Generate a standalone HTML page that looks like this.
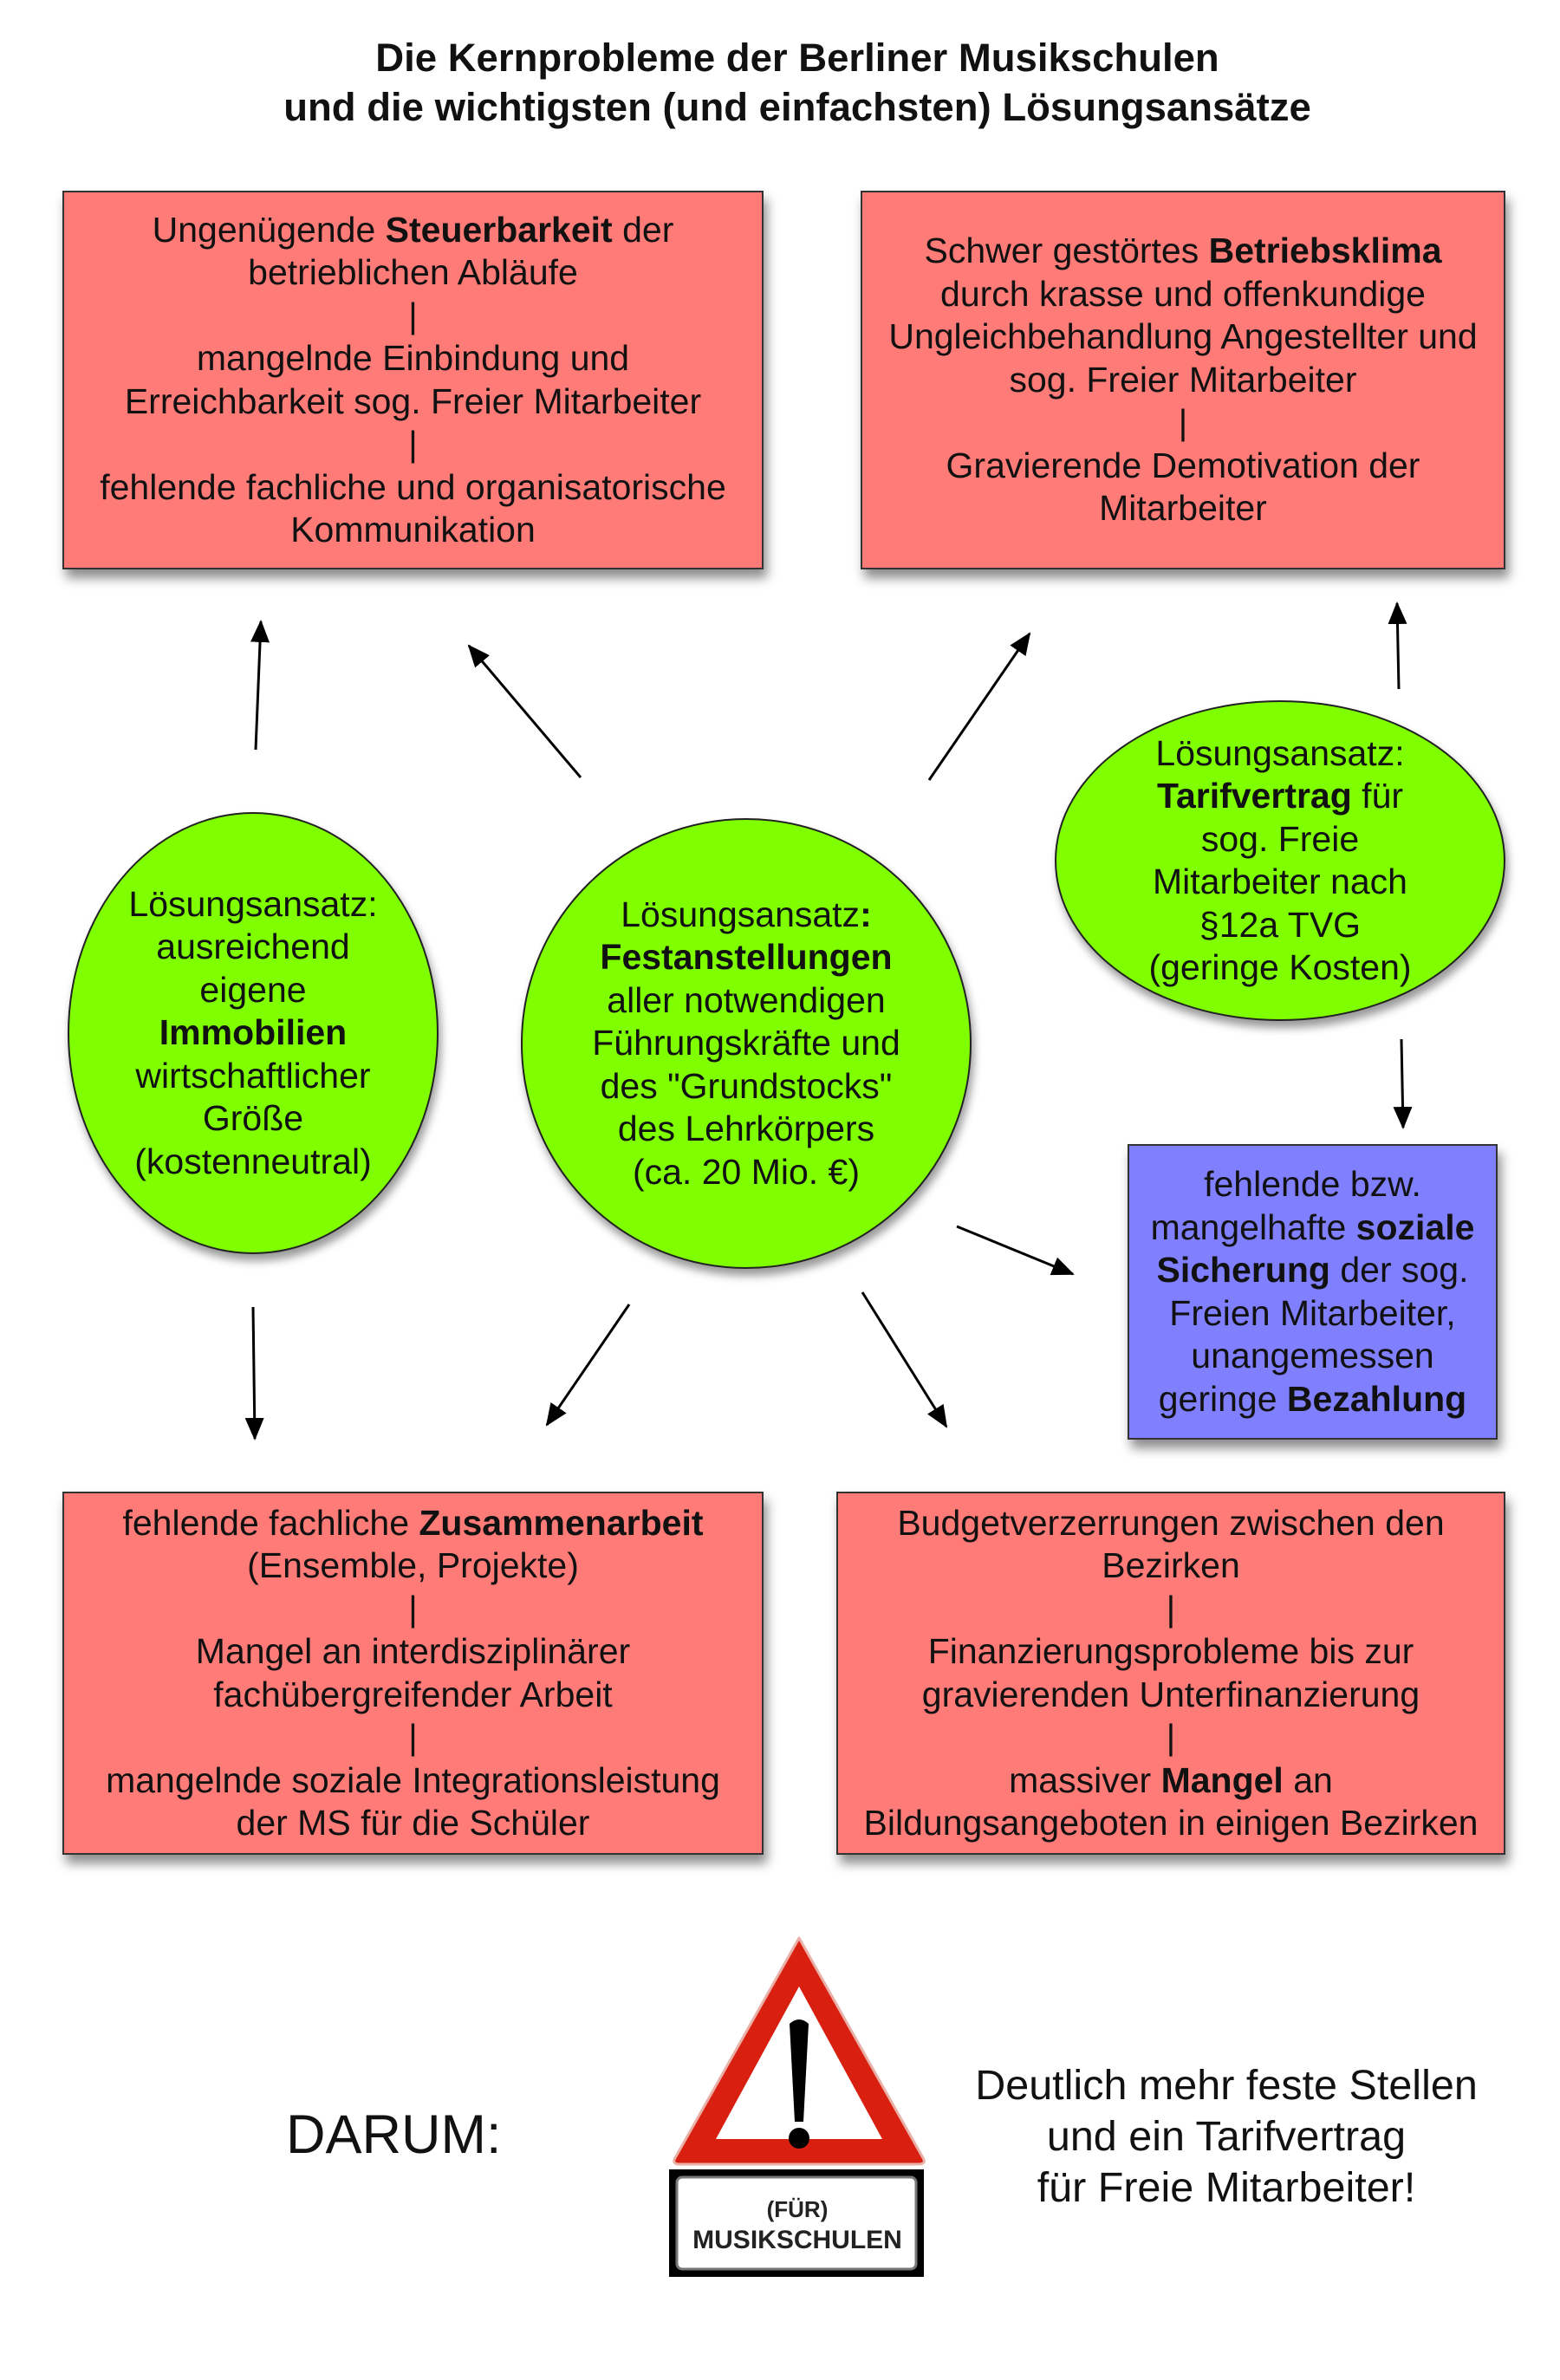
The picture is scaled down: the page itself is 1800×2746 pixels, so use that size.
<!DOCTYPE html>
<html><head><meta charset="utf-8"><style>
body{margin:0;width:1800px;height:2746px;background:#fff;position:relative;font-family:"Liberation Sans",sans-serif;color:#111;overflow:hidden}
.t{position:absolute;left:0;width:1840px;text-align:center;font-weight:bold;font-size:45.5px;line-height:57px;top:38px}
.box{position:absolute;background:#ff7b78;border:2px solid #333;box-shadow:4px 10px 12px rgba(0,0,0,.45);display:flex;align-items:center;justify-content:center;text-align:center;font-size:41px;line-height:49.5px;box-sizing:border-box}
.el{position:absolute;background:#80ff00;border:2px solid #222;border-radius:50%;box-shadow:3px 8px 10px rgba(0,0,0,.4);display:flex;align-items:center;justify-content:center;text-align:center;font-size:41px;line-height:49.5px;box-sizing:border-box}
.box>div,.el>div{white-space:nowrap}
b{font-weight:bold}
</style></head><body>
<div class="t">Die Kernprobleme der Berliner Musikschulen<br>und die wichtigsten (und einfachsten) Lösungsansätze</div>

<div class="box" style="left:72px;top:220px;width:809px;height:437px"><div>Ungenügende <b>Steuerbarkeit</b> der<br>betrieblichen Abläufe<br>|<br>mangelnde Einbindung und<br>Erreichbarkeit sog. Freier Mitarbeiter<br>|<br>fehlende fachliche und organisatorische<br>Kommunikation</div></div>
<div class="box" style="left:993px;top:220px;width:744px;height:437px"><div>Schwer gestörtes <b>Betriebsklima</b><br>durch krasse und offenkundige<br>Ungleichbehandlung Angestellter und<br>sog. Freier Mitarbeiter<br>|<br>Gravierende Demotivation der<br>Mitarbeiter</div></div>

<div class="el" style="left:78px;top:937px;width:428px;height:510px"><div>Lösungsansatz:<br>ausreichend<br>eigene<br><b>Immobilien</b><br>wirtschaftlicher<br>Größe<br>(kostenneutral)</div></div>
<div class="el" style="left:601px;top:944px;width:520px;height:520px"><div>Lösungsansatz<b>:</b><br><b>Festanstellungen</b><br>aller notwendigen<br>Führungskräfte und<br>des "Grundstocks"<br>des Lehrkörpers<br>(ca. 20 Mio. €)</div></div>
<div class="el" style="left:1217px;top:808px;width:520px;height:370px"><div>Lösungsansatz:<br><b>Tarifvertrag</b> für<br>sog. Freie<br>Mitarbeiter nach<br>§12a TVG<br>(geringe Kosten)</div></div>

<div class="box" style="left:1301px;top:1320px;width:427px;height:341px;background:#8080ff"><div>fehlende bzw.<br>mangelhafte <b>soziale</b><br><b>Sicherung</b> der sog.<br>Freien Mitarbeiter,<br>unangemessen<br>geringe <b>Bezahlung</b></div></div>

<div class="box" style="left:72px;top:1721px;width:809px;height:419px"><div>fehlende fachliche <b>Zusammenarbeit</b><br>(Ensemble, Projekte)<br>|<br>Mangel an interdisziplinärer<br>fachübergreifender Arbeit<br>|<br>mangelnde soziale Integrationsleistung<br>der MS für die Schüler</div></div>
<div class="box" style="left:965px;top:1721px;width:772px;height:419px"><div>Budgetverzerrungen zwischen den<br>Bezirken<br>|<br>Finanzierungsprobleme bis zur<br>gravierenden Unterfinanzierung<br>|<br>massiver <b>Mangel</b> an<br>Bildungsangeboten in einigen Bezirken</div></div>

<svg style="position:absolute;left:0;top:0" width="1800" height="2746">
<defs>
<marker id="m" markerWidth="26" markerHeight="22" refX="24" refY="11" orient="auto" markerUnits="userSpaceOnUse"><path d="M0,0 L26,11 L0,22 z" fill="#000"/></marker></defs>
<g stroke="#000" stroke-width="3" marker-end="url(#m)">
<line x1="295" y1="865" x2="301" y2="717"/>
<line x1="670" y1="897" x2="541" y2="745"/>
<line x1="1072" y1="900" x2="1188" y2="731"/>
<line x1="1614" y1="795" x2="1612" y2="696"/>
<line x1="1617" y1="1199" x2="1619" y2="1301"/>
<line x1="1104" y1="1415" x2="1238" y2="1470"/>
<line x1="292" y1="1508" x2="294" y2="1660"/>
<line x1="726" y1="1505" x2="631" y2="1644"/>
<line x1="995" y1="1491" x2="1092" y2="1646"/>
</g>
<path d="M922,2236 L1064,2488 Q1070,2497 1060,2497 L784,2497 Q774,2497 780,2488 Z" fill="#d92010" stroke="#e9b0a8" stroke-width="3" stroke-linejoin="round"/>
<path d="M922,2292 L1018,2468 L826,2468 Z" fill="#fff"/>
<path d="M911,2335 Q922,2325 933,2335 L927,2448 L917,2448 Z" fill="#000"/>
<circle cx="922" cy="2467" r="12" fill="#000"/>
<rect x="772" y="2503" width="294" height="124" fill="#000"/>
<rect x="781" y="2512" width="276" height="106" rx="6" fill="#fff" stroke="#777" stroke-width="3"/>
<text x="920" y="2558" font-family="Liberation Sans" font-weight="bold" font-size="26" text-anchor="middle" fill="#222">(FÜR)</text>
<text x="920" y="2594" font-family="Liberation Sans" font-weight="bold" font-size="30" text-anchor="middle" fill="#222">MUSIKSCHULEN</text>
</svg>
<div style="position:absolute;left:330px;top:2428px;font-size:63px;line-height:70px">DARUM:</div>
<div style="position:absolute;left:1050px;width:730px;top:2377px;text-align:center;font-size:48.5px;line-height:59px">Deutlich mehr feste Stellen<br>und ein Tarifvertrag<br>für Freie Mitarbeiter!</div>
</body></html>
